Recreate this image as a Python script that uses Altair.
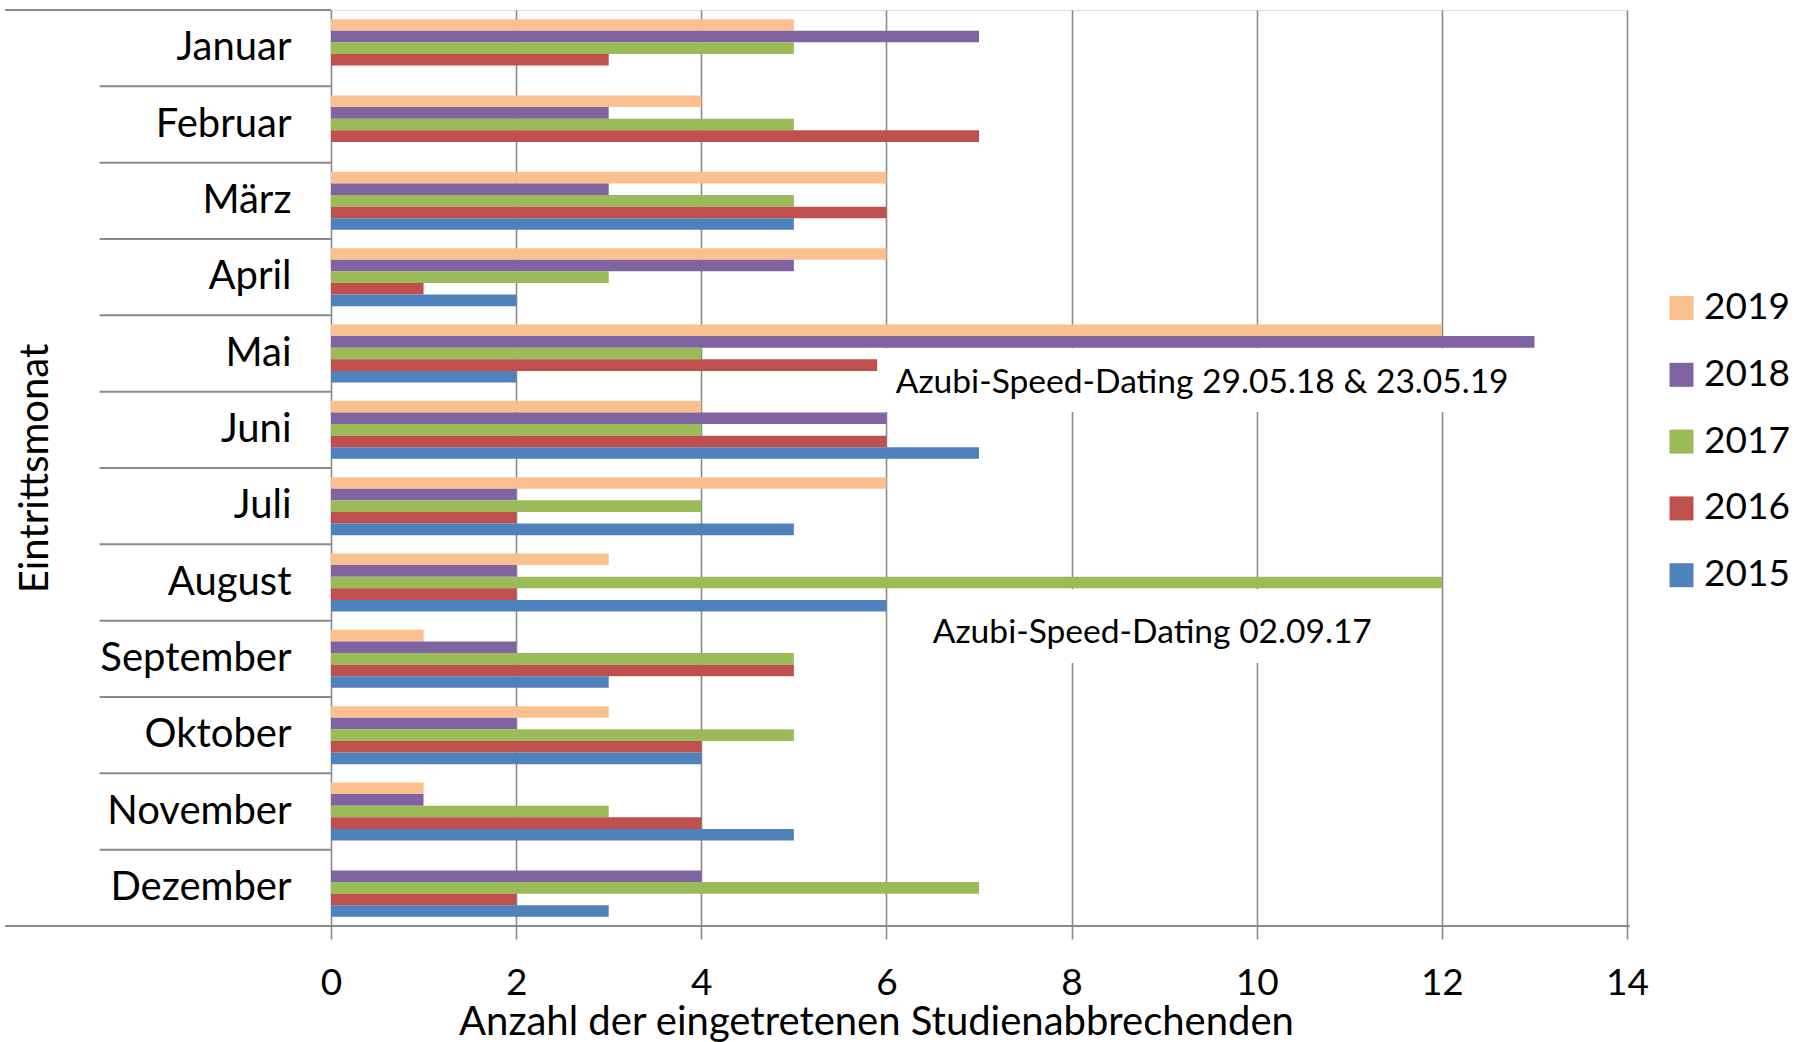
import altair as alt
import pandas as pd

# ---------------- data ----------------
months = ["Januar", "Februar", "März", "April", "Mai", "Juni", "Juli",
          "August", "September", "Oktober", "November", "Dezember"]
years = ["2019", "2018", "2017", "2016", "2015"]
v2019 = [5, 4, 6, 6, 12, 4, 6, 3, 1, 3, 1, 0]
v2018 = [7, 3, 3, 5, 13, 6, 2, 2, 2, 2, 1, 4]
v2017 = [5, 5, 5, 3, 4, 4, 4, 12, 5, 5, 3, 7]
v2016 = [3, 7, 6, 1, 6, 6, 2, 2, 5, 4, 4, 2]
v2015 = [0, 0, 5, 2, 2, 7, 5, 6, 3, 4, 5, 3]
colors = ["#FAC090", "#8064A2", "#9BBB59", "#C0504D", "#4F81BD"]
x_ticks = [0, 2, 4, 6, 8, 10, 12, 14]

# annotations (data units: x = count, y = month index from top)
annot_text = ["Azubi-Speed-Dating 29.05.18 & 23.05.19", "Azubi-Speed-Dating 02.09.17"]
annot_x = [6.10, 6.50]
annot_y = [5.015, 8.29]
box_x = [5.9, 6.03]
box_x2 = [12.9, 11.97]
box_y = [4.43, 7.59]
box_y2 = [5.265, 8.555]

series = {"2019": v2019, "2018": v2018, "2017": v2017, "2016": v2016, "2015": v2015}
rows = []
for yr in years:
    for m, v in zip(months, series[yr]):
        rows.append({"Monat": m, "Jahr": yr, "Wert": v})
df = pd.DataFrame(rows)

FONT = "Lato"
FS_NUM = 37
FS_TXT = 40
GRID = "#8a8a8a"

x_scale = alt.Scale(domain=[0, 14], nice=False, zero=True)
x_axis = alt.Axis(values=x_ticks, grid=True, gridColor=GRID, gridWidth=1.6,
                  domain=False, ticks=True, tickSize=13, tickColor=GRID, tickWidth=1.6,
                  labelFont=FONT, labelFontSize=FS_NUM, labelColor="#000", labelPadding=26,
                  labelFlush=False, labelOverlap=False, orient="bottom",
                  title="Anzahl der eingetretenen Studienabbrechenden",
                  titleFont=FONT, titleFontSize=FS_TXT, titleFontWeight="normal", titleColor="#000",
                  titleX=545, titleY=76, titleAlign="center", titleBaseline="top")

bars = alt.Chart(df).mark_bar().encode(
    x=alt.X("Wert:Q", scale=x_scale, axis=x_axis),
    y=alt.Y("Monat:N", sort=months,
            scale=alt.Scale(paddingInner=0, paddingOuter=0),
            axis=alt.Axis(ticks=False, domain=False, grid=False, labelLimit=0,
                          labelFont=FONT, labelFontSize=FS_TXT, labelColor="#000", labelPadding=40,
                          title="Eintrittsmonat", titleFont=FONT, titleFontSize=FS_TXT,
                          titleFontWeight="normal", titleColor="#000",
                          titleAngle=270, titleX=-296, titleY=458,
                          titleAlign="center", titleBaseline="middle")),
    yOffset=alt.YOffset("Jahr:N", sort=years,
                        scale=alt.Scale(domain=years, paddingInner=0, paddingOuter=0.79)),
    color=alt.Color("Jahr:N", sort=years,
                    scale=alt.Scale(domain=years, range=colors),
                    legend=alt.Legend(title=None, orient="none", legendX=1332, legendY=279.5,
                                      symbolType="square", symbolSize=576, symbolStrokeWidth=0,
                                      labelFont=FONT, labelFontSize=FS_NUM, labelColor="#000",
                                      labelOffset=4, rowPadding=28.8, padding=0)),
)

y_q = alt.Scale(domain=[0, 12], reverse=True, nice=False, zero=False)

box_df = pd.DataFrame({"bx": box_x, "bx2": box_x2, "by": box_y, "by2": box_y2})
boxes = alt.Chart(box_df).mark_rect(color="white").encode(
    x=alt.X("bx:Q", scale=x_scale, axis=None), x2="bx2:Q",
    y=alt.Y("by:Q", scale=y_q, axis=None), y2="by2:Q",
)

text_df = pd.DataFrame({"t": annot_text, "tx": annot_x, "ty": annot_y})
texts = alt.Chart(text_df).mark_text(align="left", baseline="alphabetic", font=FONT,
                                     fontSize=33.6, color="#000").encode(
    x=alt.X("tx:Q", scale=x_scale, axis=None),
    y=alt.Y("ty:Q", scale=y_q, axis=None),
    text="t:N",
)

# category separators and frame lines of the category axis
sep_rows = [{"sx": -2.5, "sx2": 0, "sy": float(i)} for i in range(1, 12)]
sep_rows += [{"sx": -3.52, "sx2": 0, "sy": 0.0}, {"sx": -3.52, "sx2": 14.03, "sy": 12.0}]
sep_df = pd.DataFrame(sep_rows)
seps = alt.Chart(sep_df).mark_rule(color=GRID, strokeWidth=2).encode(
    x=alt.X("sx:Q", scale=x_scale, axis=None), x2="sx2:Q",
    y=alt.Y("sy:Q", scale=y_q, axis=None),
)

chart = (
    alt.layer(bars, boxes, texts, seps)
    .resolve_scale(y="independent")
    .resolve_axis(x="independent", y="independent")
    .properties(
        width=1296, height=916,
        padding={"left": 331, "top": 10, "right": 175, "bottom": 116},
        autosize=alt.AutoSizeParams(type="none"),
    )
    .configure_view(strokeWidth=0, stroke="transparent")
    .configure(background="white")
)

chart.save("out.html", embed_options={"renderer": "svg", "actions": False})
